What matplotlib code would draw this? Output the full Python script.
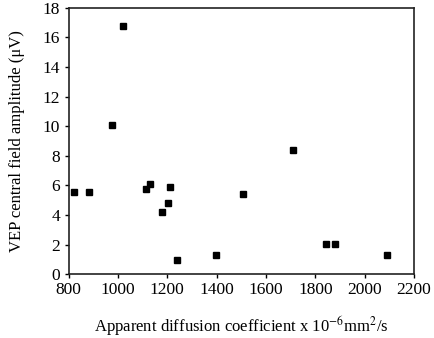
import matplotlib
matplotlib.use("Agg")
import matplotlib.pyplot as plt

# apparent diffusion coefficient (x 10^-6 mm^2/s) vs VEP amplitude (uV)
adc = [820, 884, 975, 1022, 1112, 1132, 1178, 1202, 1210, 1241,
       1399, 1507, 1709, 1843, 1879, 2092]
vep = [5.54, 5.54, 10.07, 16.74, 5.72, 6.06, 4.19, 4.78, 5.86, 0.97,
       1.26, 5.43, 8.38, 2.05, 2.05, 1.26]

x_ticks = list(range(800, 2201, 200))
y_ticks = list(range(0, 19, 2))

plt.rcParams['font.family'] = ['Liberation Serif', 'DejaVu Serif']
plt.rcParams['mathtext.fontset'] = 'stix'

fig = plt.figure(figsize=(4.34, 3.38), dpi=100)
ax = fig.add_axes([0.158, 0.189, 0.796, 0.788])

ax.plot(adc, vep, 's', color='black', ms=5, linestyle='none')

ax.set_xlim(800, 2200)
ax.set_ylim(0, 18)
ax.set_xticks(x_ticks)
ax.set_yticks(y_ticks)
ax.tick_params(direction='out', length=3, width=1, labelsize=12.5, pad=3)
for s in ax.spines.values():
    s.set_linewidth(1.2)
    s.set_color('#222222')

ax.set_xlabel(r"Apparent diffusion coefficient x 10$^{-6}$mm$^{2}$/s",
              fontsize=12, labelpad=11)
ax.set_ylabel("VEP central field amplitude (\u03bcV)", fontsize=12, labelpad=13)

fig.savefig("out.png", dpi=100)
